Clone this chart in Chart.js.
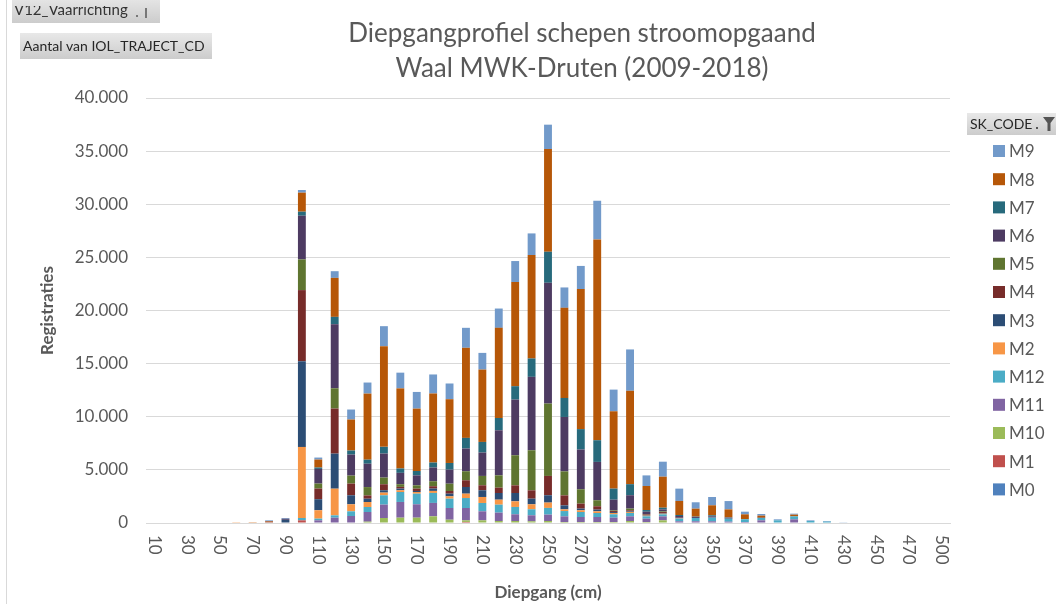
<!DOCTYPE html>
<html>
<head>
<meta charset="utf-8">
<title>Diepgangprofiel schepen stroomopgaand</title>
<script src="https://cdn.jsdelivr.net/npm/chart.js@4.4.1/dist/chart.umd.min.js"></script>
<style>
    body { margin: 0; background: #fff; }
    canvas { display: block; }
</style>
</head>
<body>
<canvas id="chart" width="1056" height="604"></canvas>
<script>
const categories = ['10', '20', '30', '40', '50', '60', '70', '80', '90', '100',
    '110', '120', '130', '140', '150', '160', '170', '180', '190', '200',
    '210', '220', '230', '240', '250', '260', '270', '280', '290', '300',
    '310', '320', '330', '340', '350', '360', '370', '380', '390', '400',
    '410', '420', '430', '440', '450', '460', '470', '480', '500'];

const yTicks = [0, 5000, 10000, 15000, 20000, 25000, 30000, 35000, 40000];

const seriesNames = ['M0', 'M1', 'M10', 'M11', 'M12', 'M2', 'M3', 'M4', 'M5', 'M6', 'M7', 'M8', 'M9'];

const m0 = new Array(49).fill(0);
const m1 = [0, 0, 0, 0, 0, 0, 0, 0, 0, 250,
    0, 0, 0, 0, 0, 0, 0, 0, 0, 100,
    0, 0, 0, 0, 0, 0, 0, 0, 0, 0,
    0, 0, 0, 0, 0, 0, 0, 0, 0, 0,
    0, 0, 0, 0, 0, 0, 0, 0, 0];
const m10 = [0, 0, 0, 0, 0, 0, 0, 0, 0, 0,
    0, 0, 0, 125, 470, 500, 500, 630, 310, 150,
    250, 190, 190, 160, 190, 95, 95, 95, 95, 190,
    95, 250, 0, 0, 0, 0, 0, 0, 0, 0,
    0, 0, 0, 0, 0, 0, 0, 0, 0];
const m11 = [0, 0, 0, 0, 0, 0, 0, 0, 0, 0,
    250, 500, 660, 910, 1260, 1480, 1260, 1260, 1100, 1160,
    850, 785, 630, 565, 600, 530, 470, 470, 410, 440,
    315, 375, 160, 160, 160, 125, 95, 250, 0, 345,
    0, 0, 0, 0, 0, 0, 0, 0, 0];
const m12 = [0, 0, 0, 0, 0, 0, 0, 0, 0, 220,
    160, 220, 440, 470, 880, 940, 1000, 940, 880, 940,
    785, 750, 690, 565, 630, 500, 470, 375, 315, 315,
    220, 190, 250, 315, 345, 280, 250, 220, 250, 280,
    190, 130, 0, 0, 0, 0, 0, 0, 0];
const m2 = [0, 0, 0, 0, 0, 20, 30, 60, 0, 6690,
    790, 2510, 660, 470, 250, 160, 160, 190, 220, 410,
    565, 470, 530, 470, 500, 160, 160, 160, 125, 95,
    60, 60, 30, 0, 0, 0, 0, 0, 0, 0,
    0, 0, 0, 0, 0, 0, 0, 0, 0];
const m3 = [0, 0, 0, 0, 0, 0, 0, 0, 300, 8070,
    1040, 3300, 850, 310, 220, 160, 95, 220, 250, 630,
    630, 630, 785, 530, 690, 375, 160, 160, 95, 60,
    60, 60, 30, 0, 0, 0, 0, 0, 0, 0,
    0, 0, 0, 0, 0, 0, 0, 0, 0];
const m4 = [0, 0, 0, 0, 0, 0, 0, 60, 0, 6690,
    1000, 4240, 1100, 310, 565, 160, 220, 220, 250, 630,
    470, 500, 720, 785, 1820, 940, 470, 315, 95, 95,
    60, 95, 30, 0, 0, 0, 0, 0, 0, 0,
    0, 0, 0, 0, 0, 0, 0, 0, 0];
const m5 = [0, 0, 0, 0, 0, 0, 0, 0, 0, 2890,
    470, 1910, 750, 785, 630, 250, 310, 470, 690, 850,
    880, 1160, 2830, 3770, 6810, 2260, 1350, 565, 60, 160,
    30, 60, 0, 0, 0, 0, 0, 0, 0, 0,
    0, 0, 0, 0, 0, 0, 0, 0, 0];
const m6 = [0, 0, 0, 0, 0, 0, 0, 0, 100, 4110,
    1380, 6030, 1980, 2200, 2260, 1070, 940, 1290, 1320, 2140,
    2200, 4240, 5240, 6910, 11370, 5120, 3740, 3610, 1000, 1260,
    220, 190, 160, 95, 125, 95, 0, 30, 0, 0,
    0, 0, 0, 0, 0, 0, 0, 0, 0];
const m7 = [0, 0, 0, 0, 0, 0, 0, 0, 0, 380,
    130, 690, 380, 380, 630, 410, 410, 470, 630, 1000,
    1000, 1160, 1260, 1730, 2920, 1790, 1920, 2040, 1040, 1040,
    160, 160, 95, 30, 95, 30, 30, 0, 0, 0,
    0, 0, 0, 0, 0, 0, 0, 0, 0];
const m8 = [0, 0, 0, 0, 0, 0, 20, 60, 0, 1790,
    750, 3670, 2920, 6220, 9480, 7540, 5870, 6500, 6000, 8480,
    6810, 8480, 9800, 9730, 9670, 8480, 13190, 18900, 7280, 8790,
    2260, 2920, 1320, 750, 940, 750, 440, 190, 0, 160,
    0, 0, 0, 0, 0, 0, 0, 0, 0];
const m9 = [0, 0, 0, 0, 0, 0, 0, 70, 70, 250,
    190, 630, 940, 1040, 1880, 1480, 1570, 1790, 1480, 1880,
    1570, 1820, 1980, 2040, 2290, 1920, 2170, 3640, 2040, 3890,
    1000, 1410, 1160, 600, 785, 785, 250, 160, 95, 95,
    60, 60, 30, 0, 0, 0, 0, 0, 0];

const seriesValues = [m0, m1, m10, m11, m12, m2, m3, m4, m5, m6, m7, m8, m9];
const seriesColors = ['#4F81BD', '#C0504D', '#9BBB59', '#8064A2', '#4BACC6', '#F79646',
    '#2C4D75', '#772C2A', '#5F7530', '#4D3B62', '#276A7C', '#B65708', '#729ACA'];

const FONT = 'Lato, "Open Sans", sans-serif';
const TEXT = '#595959';

const fmt = v => String(v).replace(/\B(?=(\d{3})+(?!\d))/g, '.');

function greyButton(ctx, x, y, w, h) {
    const g = ctx.createLinearGradient(0, y, 0, y + h);
    g.addColorStop(0, '#e8e8e8');
    g.addColorStop(1, '#cccccc');
    ctx.fillStyle = g;
    ctx.fillRect(x, y, w, h);
}

// extra drawing: title, axis titles, rotated x labels, legend, pivot buttons
const decorations = {
    id: 'decorations',
    afterDraw(chart) {
        const ctx = chart.ctx;
        const xs = chart.scales.x;
        const area = chart.chartArea;
        ctx.save();

        // sheet border line
        ctx.strokeStyle = '#d9d9d9';
        ctx.lineWidth = 1;
        ctx.beginPath();
        ctx.moveTo(6.5, 0);
        ctx.lineTo(6.5, 604);
        ctx.stroke();

        // pivot field buttons (the top one is cut off in the screenshot)
        greyButton(ctx, 12, -4, 148, 27);
        ctx.save();
        ctx.beginPath();
        ctx.rect(12, 6, 148, 20);
        ctx.clip();
        ctx.fillStyle = '#333';
        ctx.font = '15px ' + FONT;
        ctx.textAlign = 'left';
        ctx.textBaseline = 'alphabetic';
        ctx.fillText('V12_Vaarrichting', 14, 15);
        ctx.restore();
        ctx.fillStyle = '#777';
        ctx.fillRect(145, 8, 2, 10);
        ctx.fillRect(136, 15, 2, 2);

        ctx.textAlign = 'left';
        ctx.textBaseline = 'middle';
        greyButton(ctx, 20, 33, 192, 26);
        ctx.fillStyle = '#262626';
        ctx.font = '14px ' + FONT;
        ctx.fillText('Aantal van IOL_TRAJECT_CD', 23, 46);

        // title
        ctx.fillStyle = TEXT;
        ctx.font = '26px ' + FONT;
        ctx.textAlign = 'center';
        ctx.fillText('Diepgangprofiel schepen stroomopgaand', 582, 34);
        ctx.fillText('Waal MWK-Druten (2009-2018)', 582, 69);

        // axis titles
        ctx.font = 'bold 17px ' + FONT;
        ctx.fillText('Diepgang (cm)', (area.left + area.right) / 2, 593);
        ctx.save();
        ctx.translate(48, (area.top + area.bottom) / 2);
        ctx.rotate(-Math.PI / 2);
        ctx.fillText('Registraties', 0, 0);
        ctx.restore();

        // x tick labels, rotated clockwise, every other category
        ctx.font = '17px ' + FONT;
        ctx.textAlign = 'left';
        categories.forEach((label, i) => {
            if (i % 2 !== 0) return;
            ctx.save();
            ctx.translate(xs.getPixelForValue(i), area.bottom + 12);
            ctx.rotate(Math.PI / 2);
            ctx.fillText(label, 0, 0);
            ctx.restore();
        });

        // legend
        greyButton(ctx, 967, 113, 89, 22);
        ctx.fillStyle = '#262626';
        ctx.font = '14px ' + FONT;
        ctx.fillText('SK_CODE', 970, 124);
        ctx.fillStyle = '#555';
        ctx.beginPath();
        ctx.moveTo(1043, 117);
        ctx.lineTo(1055, 117);
        ctx.lineTo(1050.5, 123);
        ctx.lineTo(1050.5, 131);
        ctx.lineTo(1047.5, 131);
        ctx.lineTo(1047.5, 123);
        ctx.closePath();
        ctx.fill();
        ctx.fillRect(1036, 127, 2, 2);

        ctx.font = '17px ' + FONT;
        for (let k = seriesNames.length - 1, row = 0; k >= 0; k--, row++) {
            const cy = 151 + row * 28.2;
            ctx.fillStyle = seriesColors[k];
            ctx.fillRect(993, cy - 6, 12, 12);
            ctx.fillStyle = TEXT;
            ctx.fillText(seriesNames[k], 1009, cy + 1);
        }
        ctx.restore();
    }
};

document.addEventListener('DOMContentLoaded', () => {
    const datasets = seriesNames.map((name, k) => ({
        label: name,
        data: seriesValues[k],
        backgroundColor: seriesColors[k],
        borderWidth: 0,
        barPercentage: 0.48,
        categoryPercentage: 1
    }));

    new Chart(document.getElementById('chart').getContext('2d'), {
        type: 'bar',
        data: { labels: categories, datasets: datasets },
        options: {
            responsive: false,
            animation: false,
            layout: { padding: { left: 30, right: 106, top: 98, bottom: 21 } },
            plugins: {
                legend: { display: false },
                title: { display: false },
                tooltip: { enabled: false }
            },
            scales: {
                x: {
                    stacked: true,
                    grid: { display: false },
                    border: { display: true, color: '#d9d9d9' },
                    ticks: { display: false },
                    afterFit: s => { s.height = 60; }
                },
                y: {
                    stacked: true,
                    min: 0,
                    max: 40000,
                    afterBuildTicks: s => { s.ticks = yTicks.map(v => ({ value: v })); },
                    afterFit: s => { s.width = 116; },
                    grid: { color: '#d9d9d9', drawTicks: false },
                    border: { display: false },
                    ticks: {
                        padding: 18,
                        color: TEXT,
                        font: { family: FONT, size: 17 },
                        callback: v => fmt(v)
                    }
                }
            }
        },
        plugins: [decorations]
    });
});
</script>
</body>
</html>
